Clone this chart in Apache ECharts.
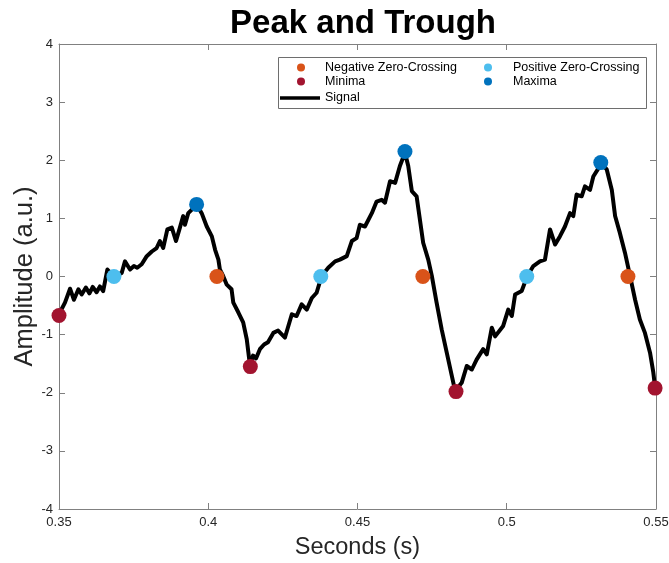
<!DOCTYPE html>
<html><head><meta charset="utf-8">
<script src="https://cdn.jsdelivr.net/npm/echarts@6/dist/echarts.min.js"></script>
<style>html,body{margin:0;padding:0;background:#fff}#c{width:669px;height:563px}</style>
</head><body><div id="c"></div>
<script>
// Signal samples: time (s) and amplitude (a.u.)
const signalT = [0.3500,0.3520,0.3537,0.3550,0.3565,0.3576,0.3590,0.3602,0.3613,0.3626,0.3637,0.3648,0.3662,0.3682,0.3710,0.3721,0.3738,0.3751,0.3762,0.3777,0.3794,0.3811,0.3827,0.3838,0.3849,0.3863,0.3878,0.3892,0.3905,0.3916,0.3922,0.3933,0.3945,0.3961,0.3978,0.3995,0.4012,0.4023,0.4034,0.4039,0.4050,0.4062,0.4078,0.4084,0.4101,0.4117,0.4129,0.4140,
0.4150,0.4160,0.4173,0.4187,0.4200,0.4218,0.4234,0.4257,0.4280,0.4296,0.4313,0.4330,0.4347,0.4363,0.4380,0.4402,0.4425,0.4441,0.4464,0.4481,0.4497,0.4508,0.4525,0.4548,0.4564,0.4581,0.4592,0.4609,0.4626,0.4642,0.4659,0.4670,0.4682,0.4698,0.4709,0.4720,0.4737,0.4749,0.4765,0.4782,0.4799,0.4816,0.4827,
0.4849,0.4866,0.4883,0.4899,0.4921,0.4933,0.4950,0.4961,0.4988,0.5005,0.5017,0.5028,0.5050,0.5069,0.5089,0.5111,0.5128,0.5145,0.5162,0.5178,0.5195,0.5212,0.5223,0.5234,0.5251,0.5262,0.5279,0.5290,0.5318,0.5335,0.5352,0.5363,0.5379,0.5396,0.5413,0.5430,0.5446,0.5463,0.5480,0.5491,0.5497,0.5500];
const signalV = [-0.65,-0.45,-0.21,-0.40,-0.22,-0.31,-0.19,-0.29,-0.18,-0.27,-0.17,-0.25,0.12,0.01,0.06,0.26,0.12,0.18,0.15,0.21,0.35,0.43,0.49,0.61,0.49,0.81,0.84,0.61,0.84,1.04,0.89,1.09,1.15,1.24,1.09,0.86,0.69,0.46,0.29,0.12,0.01,-0.14,-0.22,-0.45,-0.62,-0.79,-1.08,-1.54,
-1.36,-1.41,-1.25,-1.17,-1.13,-0.97,-0.93,-1.05,-0.65,-0.68,-0.48,-0.57,-0.37,-0.28,0.01,0.15,0.26,0.29,0.35,0.61,0.66,0.89,0.86,1.09,1.29,1.32,1.27,1.64,1.61,1.90,2.13,1.90,1.47,1.38,0.98,0.58,0.29,0.01,-0.45,-0.91,-1.31,-1.71,-1.97,
-1.83,-1.54,-1.60,-1.43,-1.25,-1.34,-0.88,-1.03,-0.85,-0.57,-0.68,-0.31,-0.25,0.01,0.18,0.26,0.29,0.81,0.55,0.69,0.86,1.09,1.04,1.41,1.38,1.55,1.49,1.72,1.95,1.84,1.49,1.04,0.75,0.41,0.01,-0.40,-0.74,-0.97,-1.31,-1.65,-1.91,-1.92];

const negZeroT = [0.4029, 0.4719, 0.5406];
const negZeroV = [0, 0, 0];
const posZeroT = [0.3684, 0.4377, 0.5067];
const posZeroV = [0, 0, 0];
const minimaT = [0.3500, 0.4141, 0.4830, 0.5497];
const minimaV = [-0.67, -1.55, -1.98, -1.92];
const maximaT = [0.3961, 0.4659, 0.5315];
const maximaV = [1.24, 2.15, 1.96];

const xTicks = [0.35, 0.4, 0.45, 0.5, 0.55];
const yTicks = [-4, -3, -2, -1, 0, 1, 2, 3, 4];

const zip = (a, b) => a.map((v, i) => [v, b[i]]);
const FONT = '"Liberation Sans", Arial, Helvetica, sans-serif';
const TXT = '#262626';
const AXL = '#808080';

const chart = echarts.init(document.getElementById('c'));
const grid = {left: 59, right: 13, top: 44, bottom: 54, containLabel: false, outerBoundsMode: 'none'};
const xCommon = {type: 'value', min: 0.35, max: 0.55, interval: 0.05,
  splitLine: {show: false},
  axisLine: {show: true, onZero: false, lineStyle: {color: AXL, width: 1}},
  axisTick: {show: true, inside: true, length: 6, lineStyle: {color: AXL}}};
const yCommon = {type: 'value', min: -4, max: 4, interval: 1,
  splitLine: {show: false},
  axisLine: {show: true, onZero: false, lineStyle: {color: AXL, width: 1}},
  axisTick: {show: true, inside: true, length: 6, lineStyle: {color: AXL}}};

const legText = {fontFamily: FONT, fontSize: 12.5, color: '#000'};
const option = {
  animation: false,
  backgroundColor: '#fff',
  title: {text: 'Peak and Trough', left: 358, top: 2, textAlign: 'center',
    textStyle: {fontFamily: FONT, fontWeight: 'bold', fontSize: 33, color: '#000'}},
  grid: grid,
  xAxis: [
    Object.assign({}, xCommon, {position: 'bottom',
      name: 'Seconds (s)', nameLocation: 'middle', nameGap: 27,
      nameTextStyle: {fontFamily: FONT, fontSize: 23.5, color: TXT},
      axisLabel: {fontFamily: FONT, fontSize: 13, color: TXT, margin: 7,
        customValues: xTicks,
        formatter: v => String(+(+v).toFixed(2))}}),
    Object.assign({}, xCommon, {position: 'top', axisLabel: {show: false}})
  ],
  yAxis: [
    Object.assign({}, yCommon, {position: 'left',
      name: 'Amplitude (a.u.)', nameLocation: 'middle', nameGap: 21, nameMoveOverlap: false,
      nameTextStyle: {fontFamily: FONT, fontSize: 25.5, color: TXT},
      axisLabel: {fontFamily: FONT, fontSize: 13, color: TXT, margin: 6,
        customValues: yTicks,
        formatter: v => String(Math.round(v))}}),
    Object.assign({}, yCommon, {position: 'right', axisLabel: {show: false}})
  ],
  legend: [
    {left: 297, top: 61, padding: 0, orient: 'vertical', itemWidth: 8, itemHeight: 8, itemGap: 1,
      icon: 'circle',
      data: ['Negative Zero-Crossing', 'Minima'],
      textStyle: Object.assign({padding: [0, 0, 0, 15]}, legText)},
    {left: 484, top: 61, padding: 0, orient: 'vertical', itemWidth: 8, itemHeight: 8, itemGap: 1,
      icon: 'circle',
      data: ['Positive Zero-Crossing', 'Maxima'],
      textStyle: Object.assign({padding: [0, 0, 0, 16]}, legText)},
    {left: 280, top: 91.5, padding: 0, orient: 'vertical', itemWidth: 40, itemHeight: 3.5, itemGap: 1,
      data: [{name: 'Signal', icon: 'rect'}],
      textStyle: legText}
  ],
  graphic: [{type: 'rect', left: 278, top: 57, z: 0,
    shape: {width: 368, height: 51},
    style: {fill: '#fff', stroke: '#6e6e6e', lineWidth: 1}}],
  series: [
    {name: 'Signal', type: 'line', data: zip(signalT, signalV), symbol: 'none',
      lineStyle: {color: '#000', width: 4, join: 'round', cap: 'round'}, itemStyle: {color: '#000'}, z: 2},
    {name: 'Negative Zero-Crossing', type: 'scatter', data: zip(negZeroT, negZeroV), symbolSize: 15,
      itemStyle: {color: '#D95319', opacity: 1}, z: 3},
    {name: 'Positive Zero-Crossing', type: 'scatter', data: zip(posZeroT, posZeroV), symbolSize: 15,
      itemStyle: {color: '#4DBEEE', opacity: 1}, z: 3},
    {name: 'Minima', type: 'scatter', data: zip(minimaT, minimaV), symbolSize: 15,
      itemStyle: {color: '#A2142F', opacity: 1}, z: 3},
    {name: 'Maxima', type: 'scatter', data: zip(maximaT, maximaV), symbolSize: 15,
      itemStyle: {color: '#0072BD', opacity: 1}, z: 3}
  ]
};
chart.setOption(option);
</script></body></html>
